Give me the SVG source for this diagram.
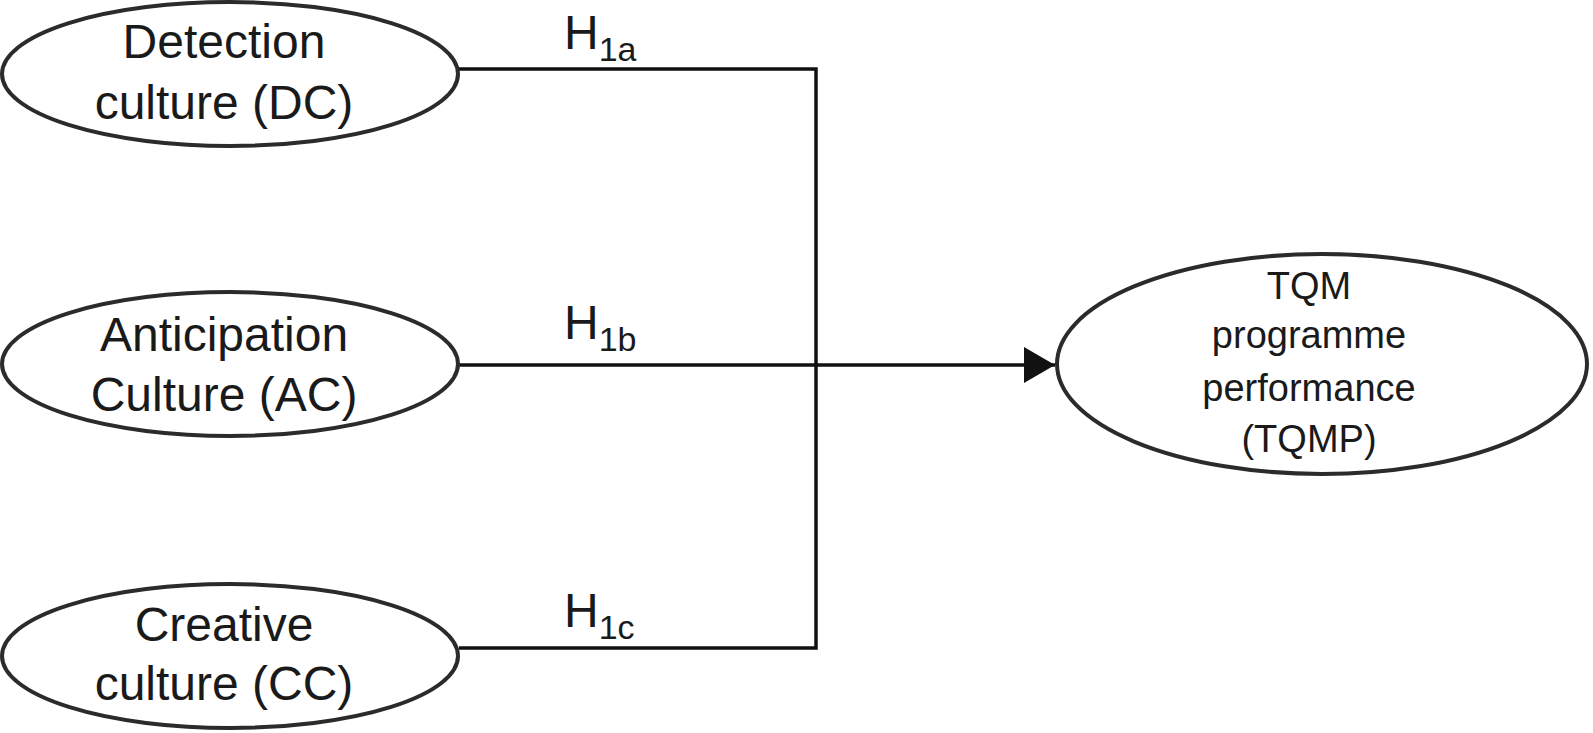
<svg xmlns="http://www.w3.org/2000/svg" width="1593" height="733" viewBox="0 0 1593 733">
<style>
.node{fill:#fff;stroke:#2b2b2b;stroke-width:4}
.lbl{font-family:"Liberation Sans",Arial,sans-serif;font-size:48px;fill:#1a1a1a;text-anchor:middle}
.tq{font-family:"Liberation Sans",Arial,sans-serif;font-size:38px;fill:#1a1a1a;text-anchor:middle}
.h{font-family:"Liberation Sans",Arial,sans-serif;font-size:48px;fill:#1a1a1a}
.sub{font-size:34px}
.conn{fill:none;stroke:#111;stroke-width:3.5}
</style>
<defs>
<marker id="arr" markerUnits="userSpaceOnUse" markerWidth="32" markerHeight="36" refX="31" refY="18" orient="auto">
<path d="M0,0 L31,18 L0,36 Z" fill="#111"/>
</marker>
</defs>
<rect width="1593" height="733" fill="#fff"/>
<g id="connectors">
<path class="conn" d="M459,69 H816 V648 H459"/>
<path class="conn" d="M459,365 H1055" marker-end="url(#arr)"/>
<text class="h" x="564" y="49">H<tspan class="sub" dy="12">1a</tspan></text>
<text class="h" x="564" y="339">H<tspan class="sub" dy="12">1b</tspan></text>
<text class="h" x="564" y="627">H<tspan class="sub" dy="12">1c</tspan></text>
</g>
<g id="dc">
<ellipse class="node" cx="230" cy="74" rx="228" ry="72"/>
<text class="lbl" x="224" y="58">Detection</text>
<text class="lbl" x="224" y="119">culture (DC)</text>
</g>
<g id="ac">
<ellipse class="node" cx="230" cy="364" rx="228" ry="72"/>
<text class="lbl" x="224" y="351">Anticipation</text>
<text class="lbl" x="224" y="411">Culture (AC)</text>
</g>
<g id="cc">
<ellipse class="node" cx="230" cy="656" rx="228" ry="72"/>
<text class="lbl" x="224" y="641">Creative</text>
<text class="lbl" x="224" y="700">culture (CC)</text>
</g>
<g id="tqmp">
<ellipse class="node" cx="1322" cy="364" rx="265" ry="110"/>
<text class="tq" x="1309" y="299">TQM</text>
<text class="tq" x="1309" y="348">programme</text>
<text class="tq" x="1309" y="401">performance</text>
<text class="tq" x="1309" y="452">(TQMP)</text>
</g>
</svg>
